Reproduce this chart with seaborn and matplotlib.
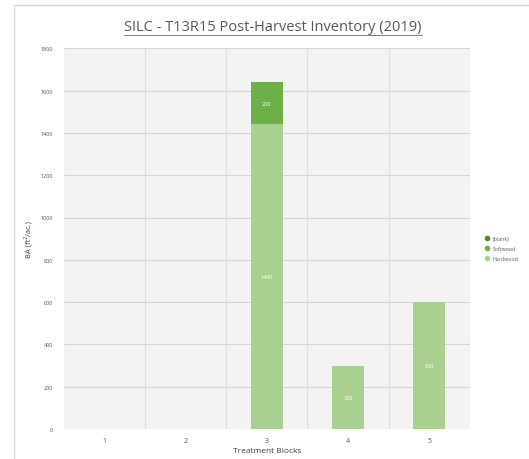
import pandas as pd
import matplotlib.pyplot as plt
import seaborn as sns
from matplotlib.patches import Rectangle
from matplotlib.lines import Line2D

# === DATA ===
blocks = ["1", "2", "3", "4", "5"]
hardwood = [0, 0, 1440, 300, 600]
softwood = [0, 0, 200, 0, 0]
blank = [0, 0, 0, 0, 0]
y_ticks = [0, 200, 400, 600, 800, 1000, 1200, 1400, 1600, 1800]

COL_BLANK = "#4e8a2c"
COL_SOFT = "#6db04a"
COL_HARD = "#a9cf91"

df = pd.DataFrame({"Block": blocks, "Hardwood": hardwood,
                   "Softwood": softwood, "Blank": blank})
df["SoftTop"] = df["Hardwood"] + df["Softwood"]
df["Total"] = df["SoftTop"] + df["Blank"]

sns.set_style("white")
plt.rcParams["font.family"] = ["Open Sans", "DejaVu Sans"]

fig = plt.figure(figsize=(5.29, 4.6), dpi=100)
ax = fig.add_axes([0.121, 0.065, 0.767, 0.828])

# chart border
fig.patches.append(Rectangle((14 / 529, -0.01), 1.0, 1 - 6 / 460 + 0.01,
                             transform=fig.transFigure, fill=False,
                             edgecolor="#d9d9d9", linewidth=1.0))

ax.set_facecolor("#f3f3f3")
# stacked bars: draw the cumulative totals first, then the lower segments on top
for col, colour in [("Total", COL_BLANK), ("SoftTop", COL_SOFT), ("Hardwood", COL_HARD)]:
    sns.barplot(data=df, x="Block", y=col, color=colour, width=0.4,
                saturation=1, ax=ax, zorder=3, linewidth=0, edgecolor="none")

# segment labels
for i, (h, s) in enumerate(zip(hardwood, softwood)):
    if h > 0:
        ax.text(i, h / 2, f"{h}", color="white", ha="center", va="center",
                fontsize=4, zorder=4)
    if s > 0:
        ax.text(i, h + s / 2, f"{s}", color="white", ha="center", va="center",
                fontsize=4, zorder=4)

ax.set_ylim(0, 1800)
ax.set_xlim(-0.5, 4.5)
ax.set_yticks(y_ticks)
ax.set_yticklabels([str(t) for t in y_ticks], fontsize=4, color="#595959")
ax.tick_params(axis="x", labelsize=5, colors="#595959", length=0, pad=6)
ax.tick_params(axis="y", length=0, pad=8)
ax.grid(axis="y", color="#d6d6d6", linewidth=0.8, zorder=0)
for xb in [0.5, 1.5, 2.5, 3.5]:
    ax.axvline(xb, color="#dedede", linewidth=0.8, zorder=0)
for sp in ax.spines.values():
    sp.set_visible(False)

ax.set_xlabel("Treatment Blocks", fontsize=6, color="#404040", labelpad=2)
ax.set_ylabel("BA (ft²/ac.)", fontsize=5.5, color="#404040", labelpad=6)

fig.text(0.516, 0.941, "SILC - T13R15 Post-Harvest Inventory (2019)",
         ha="center", va="center", fontsize=10.5, color="#595959")
fig.add_artist(Line2D([0.234, 0.798], [0.922, 0.922],
                      transform=fig.transFigure, color="#7f7f7f", linewidth=0.7))

handles = [Line2D([0], [0], marker="o", linestyle="", markersize=3,
                  color=c) for c in [COL_BLANK, COL_SOFT, COL_HARD]]
fig.legend(handles, ["(blank)", "Softwood", "Hardwood"], loc="upper left",
           bbox_to_anchor=(0.905, 0.49), frameon=False, fontsize=3.8,
           labelcolor="#595959", handletextpad=0.2, labelspacing=0.9,
           borderpad=0)

fig.savefig("out.png", dpi=100)
